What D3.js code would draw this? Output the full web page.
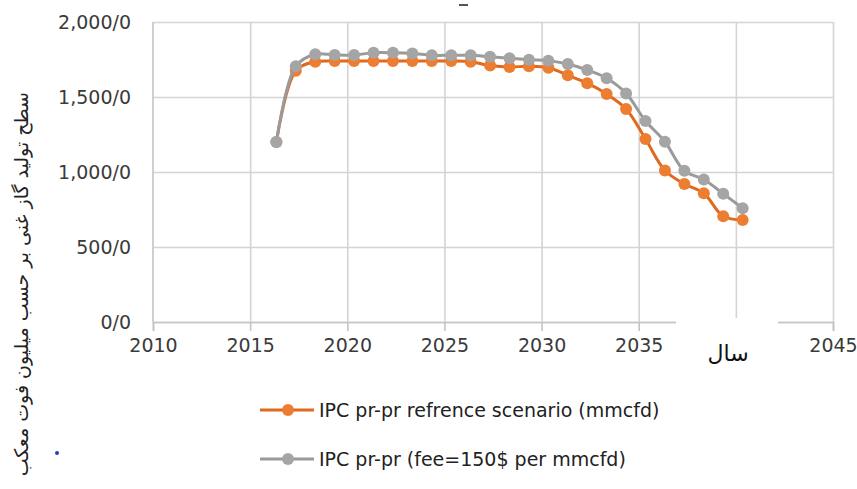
<!DOCTYPE html>
<html>
<head>
<meta charset="utf-8">
<script src="https://cdn.jsdelivr.net/npm/d3@7"></script>
<style>
  body { margin: 0; background: #fff; }
  svg { display: block; font-family: "DejaVu Sans", sans-serif; }
</style>
</head>
<body>
<div class="chart"></div>
<script>
// data
const years = d3.range(2016, 2041);
const refValues = [1200, 1675, 1735, 1740, 1740, 1740, 1740, 1740, 1740, 1740,
  1735, 1710, 1700, 1705, 1695, 1645, 1592, 1520, 1420, 1220,
  1010, 920, 858, 705, 680];
const feeValues = [1200, 1705, 1785, 1780, 1780, 1795, 1795, 1790, 1778, 1778,
  1778, 1768, 1758, 1748, 1742, 1720, 1680, 1625, 1524, 1340,
  1202, 1008, 950, 855, 758];
const seriesNames = ["IPC pr-pr refrence scenario (mmcfd)", "IPC pr-pr (fee=150$ per mmcfd)"];
const xTicks = [2010, 2015, 2020, 2025, 2030, 2035, 2040, 2045];
const hiddenXLabel = 2040; // covered by the x title box in the original
const yTicks = [0, 500, 1000, 1500, 2000];
const yTitle = "سطح تولید گاز غنی بر حسب میلیون فوت معکب";
const xTitle = "سال";

// points sit a bit after the start of each year
const pointShift = 0.35;

const W = 857, H = 489;
const margin = {top: 22, right: 24, bottom: 167, left: 153};
const width = W - margin.left - margin.right,
      height = H - margin.top - margin.bottom;

const svg = d3.select(".chart")
  .append("svg")
    .attr("width", W)
    .attr("height", H);

const g = svg.append("g")
    .attr("transform", `translate(${margin.left}, ${margin.top})`);

const x = d3.scaleLinear().domain([2010, 2045]).range([0, width]);
const y = d3.scaleLinear().domain([0, 2000]).range([height, 0]);

const gridColor = "#d4d4d4";

// gridlines
g.append("g")
  .call(d3.axisLeft(y).tickValues(yTicks).tickSize(-width).tickFormat(""))
  .call(a => a.select(".domain").remove())
  .selectAll("line").attr("stroke", gridColor).attr("stroke-width", 1.6);

g.append("g")
  .call(d3.axisBottom(x).tickValues(xTicks.slice(1)).tickSize(height).tickFormat(""))
  .call(a => a.select(".domain").remove())
  .selectAll("line").attr("y1", 0).attr("y2", height)
  .attr("stroke", gridColor).attr("stroke-width", 1.6);

// left axis line
g.append("line")
  .attr("x1", 0).attr("x2", 0).attr("y1", 0).attr("y2", height)
  .attr("stroke", "#c4c4c4").attr("stroke-width", 1.6);

// y tick labels
g.append("g")
  .call(d3.axisLeft(y).tickValues(yTicks).tickSize(0).tickPadding(22)
    .tickFormat(d => d3.format(",")(d) + "/0"))
  .call(a => a.select(".domain").remove())
  .selectAll("text")
    .attr("font-size", 19)
    .attr("font-family", "DejaVu Sans, sans-serif")
    .attr("fill", "#3a3a3a")
    .attr("dy", "0.36em");

// x axis
const xa = g.append("g")
  .attr("transform", `translate(0, ${height})`)
  .call(d3.axisBottom(x).tickValues(xTicks).tickSize(9).tickPadding(8)
    .tickFormat(d => d === hiddenXLabel ? "" : d3.format("d")(d)));
xa.select(".domain").attr("stroke", "#c4c4c4").attr("stroke-width", 1.6);
xa.selectAll("line").attr("stroke", "#c4c4c4").attr("stroke-width", 1.6);
xa.selectAll("text")
  .attr("font-size", 19)
  .attr("font-family", "DejaVu Sans, sans-serif")
  .attr("fill", "#3a3a3a");

// series
const series = [
  {name: seriesNames[0], values: refValues, line: "#e0691e", fill: "#ed7d31"},
  {name: seriesNames[1], values: feeValues, line: "#9a9a9a", fill: "#a5a5a5"}
];

const line = d3.line()
  .x((d, i) => x(years[i] + pointShift))
  .y(d => y(d))
  .curve(d3.curveCatmullRom.alpha(0.5));

series.forEach(s => {
  g.append("path")
    .attr("d", line(s.values))
    .attr("fill", "none")
    .attr("stroke", s.line)
    .attr("stroke-width", 3);
  g.selectAll(null)
    .data(s.values)
    .join("circle")
    .attr("cx", (d, i) => x(years[i] + pointShift))
    .attr("cy", d => y(d))
    .attr("r", 6)
    .attr("fill", s.fill);
});

// white box over the axis with the x title
svg.append("rect")
  .attr("x", 676).attr("y", margin.top + height - 4)
  .attr("width", 102).attr("height", 50)
  .attr("fill", "#fff");
svg.append("text")
  .attr("x", 728).attr("y", 361)
  .attr("text-anchor", "middle")
  .attr("font-size", 22)
  .attr("fill", "#111")
  .text(xTitle);

// y title
svg.append("text")
  .attr("transform", "translate(28, 92) rotate(-90)")
  .attr("text-anchor", "end")
  .attr("font-size", 19)
  .attr("fill", "#222")
  .text(yTitle);

// small title remnant
svg.append("rect")
  .attr("x", 459).attr("y", 4).attr("width", 9).attr("height", 2)
  .attr("fill", "#555");

// legend
const legend = svg.append("g");
series.forEach((s, i) => {
  const ly = 410 + i * 49;
  legend.append("line")
    .attr("x1", 260).attr("x2", 314).attr("y1", ly).attr("y2", ly)
    .attr("stroke", s.line).attr("stroke-width", 3);
  legend.append("circle")
    .attr("cx", 288).attr("cy", ly).attr("r", 6).attr("fill", s.fill);
  legend.append("text")
    .attr("x", 319).attr("y", ly)
    .attr("dy", "0.36em")
    .attr("font-size", 19)
    .attr("fill", "#222")
    .text(s.name);
});

// little blue dot
svg.append("circle")
  .attr("cx", 57).attr("cy", 453).attr("r", 2).attr("fill", "#2a3fb0");
</script>
</body>
</html>
